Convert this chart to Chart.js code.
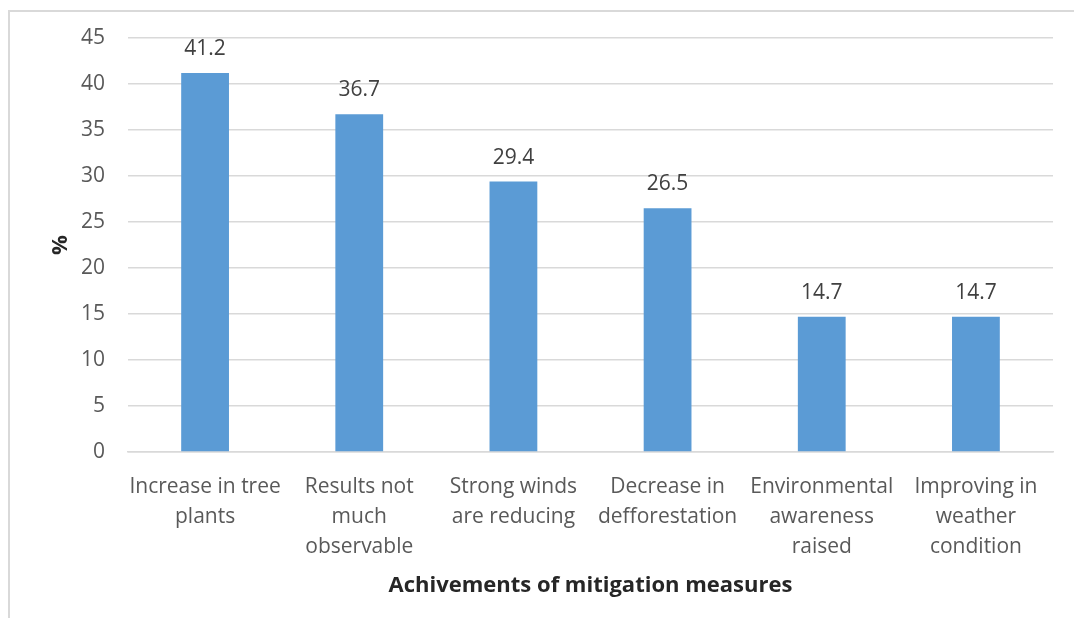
<!DOCTYPE html>
<html>
<head>
<meta charset="utf-8">
<script src="https://cdn.jsdelivr.net/npm/chart.js@4"></script>
<style>
  html, body { margin: 0; padding: 0; background: #fff; }
  #wrap { position: relative; width: 1074px; height: 618px; overflow: hidden; }
  #frame { position: absolute; left: 8px; top: 10px; right: -5px; bottom: -5px;
           border-left: 2px solid #d9d9d9; border-top: 2px solid #d9d9d9; }
  canvas { position: absolute; left: 0; top: 0; }
</style>
</head>
<body>
<div id="wrap">
  <div id="frame"></div>
  <canvas id="c" width="1074" height="618"></canvas>
</div>
<script>
const categories = [
  ["Increase in tree", "plants"],
  ["Results not", "much", "observable"],
  ["Strong winds", "are reducing"],
  ["Decrease in", "defforestation"],
  ["Environmental", "awareness", "raised"],
  ["Improving in", "weather", "condition"]
];
const values = [41.2, 36.7, 29.4, 26.5, 14.7, 14.7];
const xTitle = "Achivements of mitigation measures";
const yTitle = "%";
const yMin = 0, yMax = 45, yStep = 5;

const FONT = "'Open Sans', sans-serif";

const valueLabels = {
  id: 'valueLabels',
  afterDatasetsDraw(chart) {
    const ctx = chart.ctx;
    const meta = chart.getDatasetMeta(0);
    ctx.save();
    ctx.font = "21px " + FONT;
    ctx.fillStyle = "#404040";
    ctx.textAlign = "center";
    ctx.textBaseline = "middle";
    meta.data.forEach((bar, i) => {
      ctx.fillText(values[i].toFixed(1), bar.x, bar.y - 24);
    });
    ctx.restore();
  }
};

new Chart(document.getElementById('c'), {
  type: 'bar',
  data: {
    labels: categories,
    datasets: [{
      data: values,
      backgroundColor: '#5B9BD5',
      borderWidth: 0,
      categoryPercentage: 1,
      barPercentage: 0.31
    }]
  },
  options: {
    responsive: false,
    animation: false,
    devicePixelRatio: 1,
    layout: { padding: { top: 38, right: 21, left: 0, bottom: 0 } },
    plugins: { legend: { display: false }, tooltip: { enabled: false } },
    scales: {
      x: {
        grid: { display: false, drawTicks: false },
        border: { display: true, color: '#d9d9d9', width: 1.5 },
        ticks: {
          color: '#595959', padding: 20, maxRotation: 0, autoSkip: false,
          font: { family: FONT, size: 21, lineHeight: 30 / 21 }
        },
        title: {
          display: true, text: xTitle, color: '#262626',
          font: { family: FONT, size: 22, weight: 'bold', lineHeight: 1.2 },
          padding: { top: 0, bottom: 19 }
        },
        afterFit(scale) { scale.height = 166; }
      },
      y: {
        min: yMin, max: yMax,
        grid: { color: '#d9d9d9', lineWidth: 1.5, drawTicks: false },
        border: { display: false },
        ticks: {
          stepSize: yStep, color: '#595959', padding: 23,
          font: { family: FONT, size: 21 }
        },
        title: {
          display: true, text: yTitle, color: '#262626',
          font: { family: FONT, size: 22, weight: 'bold', lineHeight: 1.2 },
          padding: { top: 48, bottom: 0 }
        },
        afterFit(scale) { scale.width = 128; }
      }
    }
  },
  plugins: [valueLabels]
});
</script>
</body>
</html>
